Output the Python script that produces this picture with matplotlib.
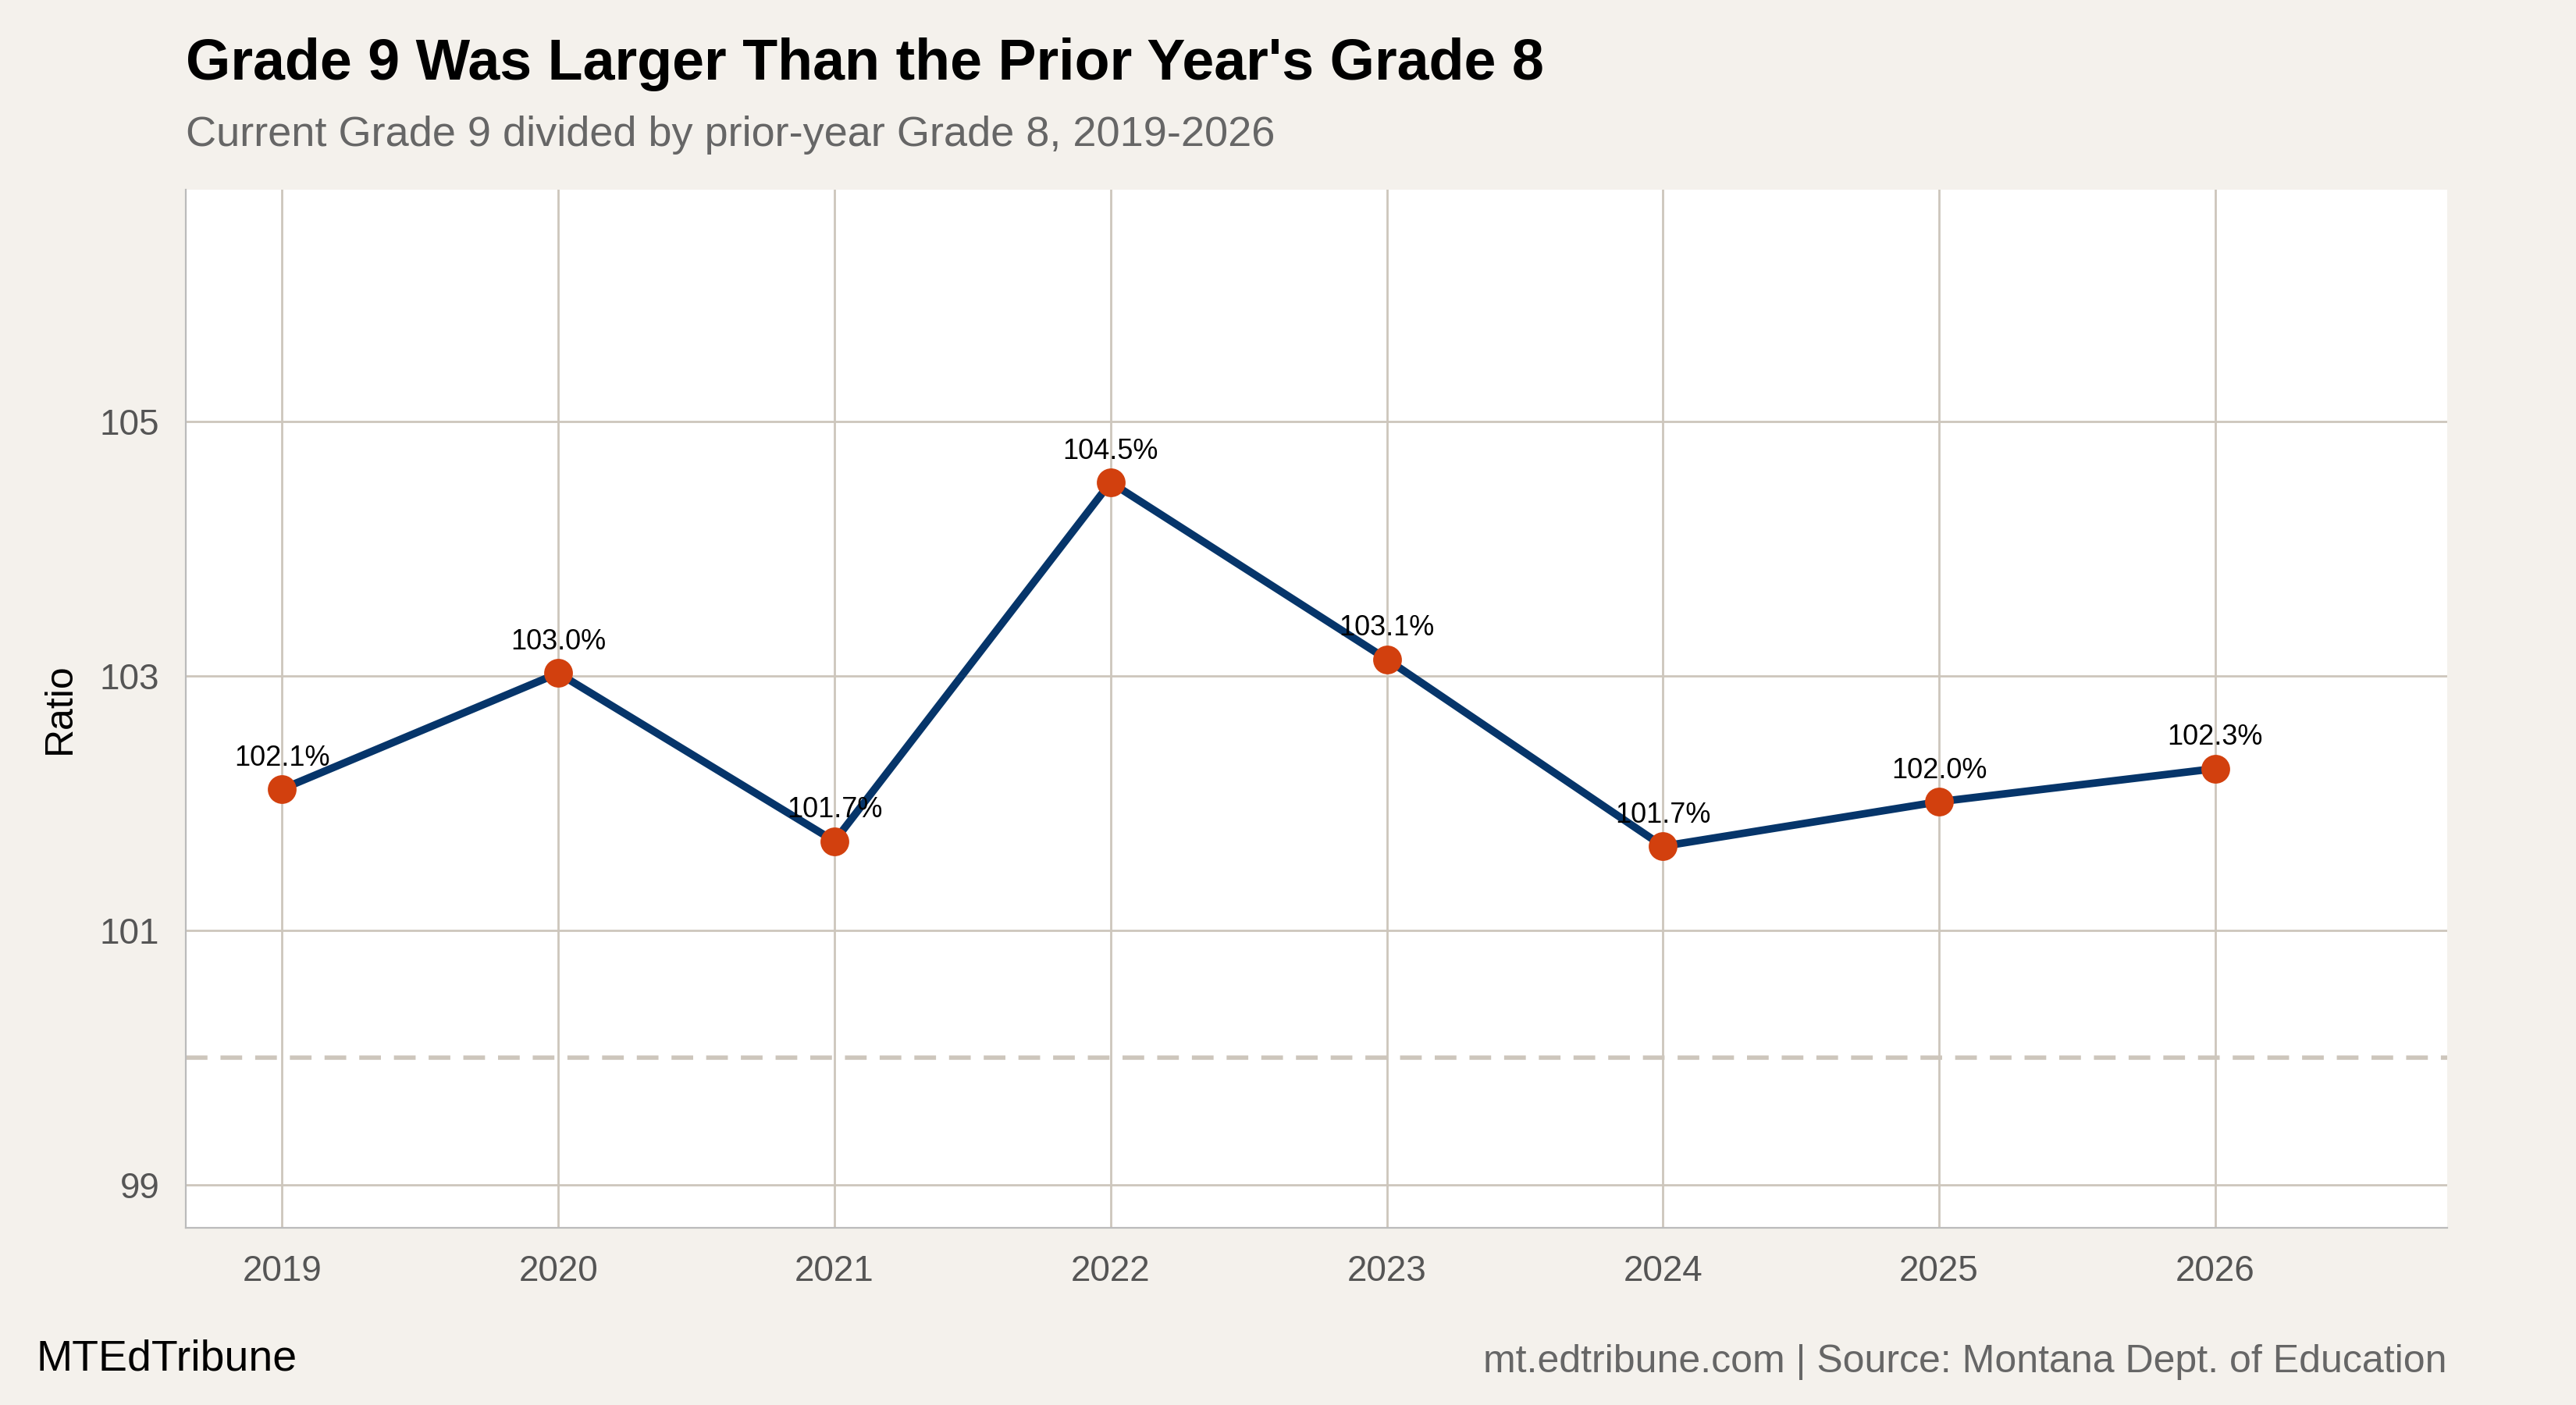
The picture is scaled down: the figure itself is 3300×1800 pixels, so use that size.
import matplotlib.pyplot as plt

years = [2019, 2020, 2021, 2022, 2023, 2024, 2025, 2026]
ratios = [102.11, 103.02, 101.70, 104.52, 103.13, 101.66, 102.01, 102.27]
yticks = [99, 101, 103, 105]

bg = '#f4f1ec'
grid = '#cdc6bc'
navy = '#06356a'
orange = '#d2400e'

plt.rcParams['font.family'] = ['Liberation Sans', 'DejaVu Sans']

fig = plt.figure(figsize=(16.5, 9), dpi=200, facecolor=bg)
ax = fig.add_axes([0.072, 0.126, 0.878, 0.739])
ax.set_facecolor('white')

ax.axhline(100, color=grid, linestyle=(0, (5, 3)), linewidth=2, zorder=1)
ax.plot(years, ratios, color=navy, linewidth=3.5, zorder=3)
ax.scatter(years, ratios, s=150, color=orange, zorder=4)
for x, y in zip(years, ratios):
    ax.annotate(f'{y:.1f}%', (x, y), xytext=(0, 8), textcoords='offset points',
                ha='center', va='bottom', fontsize=13, color='black', zorder=5)

ax.set_xlim(2018.65, 2026.84)
ax.set_ylim(98.66, 106.82)
ax.set_xticks(years)
ax.set_yticks(yticks)
ax.grid(True, color=grid, linewidth=1)
ax.set_axisbelow(True)
ax.tick_params(length=0, labelsize=16.5, labelcolor='#555555', pad=12)
for s in ['top', 'right']:
    ax.spines[s].set_visible(False)
for s in ['left', 'bottom']:
    ax.spines[s].set_color('#bbbbbb')
ax.set_ylabel('Ratio', fontsize=18, labelpad=10)

fig.text(0.072, 0.935, "Grade 9 Was Larger Than the Prior Year's Grade 8",
         fontsize=26.5, fontweight='bold', va='bottom')
fig.text(0.072, 0.89, 'Current Grade 9 divided by prior-year Grade 8, 2019-2026',
         fontsize=19.5, color='#666666', va='bottom')
fig.text(0.014, 0.018, 'MTEdTribune', fontsize=20, va='bottom')
fig.text(0.950, 0.018, 'mt.edtribune.com | Source: Montana Dept. of Education',
         fontsize=18, color='#666666', ha='right', va='bottom')

fig.savefig('out.png', dpi=200, facecolor=bg)
